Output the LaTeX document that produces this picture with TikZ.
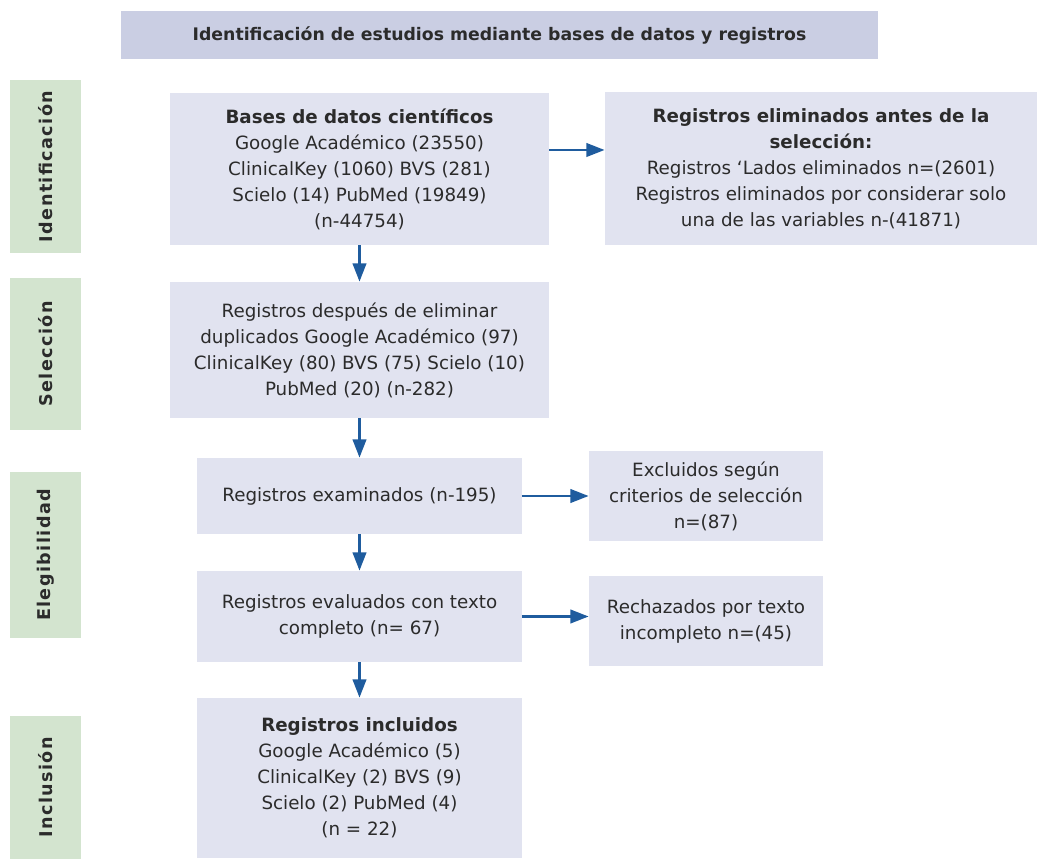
\documentclass[tikz,border=0pt]{standalone}
\usepackage{fontspec}
\setmainfont{DejaVu Sans}
\usetikzlibrary{arrows.meta}
\definecolor{boxfill}{HTML}{E1E3F0}
\definecolor{titlefill}{HTML}{CACEE3}
\definecolor{stagefill}{HTML}{D3E4CF}
\definecolor{arrowblue}{HTML}{1F5C9E}
\definecolor{txtgray}{HTML}{2B2B2B}
\tikzset{
	box/.style={fill=boxfill, text=txtgray, align=center, inner sep=0pt, font=\fontsize{13}{18.5}\selectfont},
	stage/.style={fill=stagefill, text=txtgray, rotate=90, inner sep=0pt, minimum height=1.775cm, font=\bfseries\fontsize{12.5}{15}\selectfont\addfontfeature{LetterSpace=8}},
	flow/.style={draw=arrowblue, line width=2pt, -{Triangle[length=13pt,width=9.5pt]}}
}

\begin{document}
\begin{tikzpicture}[x=0.025cm, y=-0.025cm]
			%%%%% START %%%%%
			\useasboundingbox (0, 0) rectangle (1041, 859);
			
			\node[box, fill=titlefill, minimum width=18.925cm, minimum height=1.2cm, font=\bfseries\fontsize{12.3}{14}\selectfont] (titulo) at (499.5, 35) {Identificación de estudios mediante bases de datos y registros};
			
			% fases
			\node[stage, minimum width=4.325cm] (fase1) at (45.5, 166.5) {Identificación};
			\node[stage, minimum width=3.8cm] (fase2) at (45.5, 354) {Selección};
			\node[stage, minimum width=4.15cm] (fase3) at (45.5, 555) {Elegibilidad};
			\node[stage, minimum width=3.575cm] (fase4) at (45.5, 787.5) {Inclusión};
			
			% columna principal
			\node[box, minimum width=9.475cm, minimum height=3.8cm] (bases) at (359.5, 169) {\textbf{Bases de datos científicos}\\Google Académico (23550)\\ClinicalKey (1060) BVS (281)\\Scielo (14) PubMed (19849)\\(n-44754)};
			\node[box, minimum width=9.475cm, minimum height=3.4cm] (despues) at (359.5, 350) {Registros después de eliminar\\duplicados Google Académico (97)\\ClinicalKey (80) BVS (75) Scielo (10)\\PubMed (20) (n-282)};
			\node[box, minimum width=8.1cm, minimum height=1.9cm] (examinados) at (359.5, 496) {Registros examinados (n-195)};
			\node[box, minimum width=8.1cm, minimum height=2.275cm] (evaluados) at (359.5, 616.5) {Registros evaluados con texto\\completo (n= 67)};
			\node[box, minimum width=8.1cm, minimum height=4cm] (incluidos) at (359.5, 778) {\textbf{Registros incluidos}\\Google Académico (5)\\ClinicalKey (2) BVS (9)\\Scielo (2) PubMed (4)\\(n = 22)};
			
			% columna derecha
			\node[box, minimum width=10.8cm, minimum height=3.825cm] (eliminados) at (821, 168.5) {\textbf{Registros eliminados antes de la}\\\textbf{selección:}\\Registros ‘Lados eliminados n=(2601)\\Registros eliminados por considerar solo\\una de las variables n-(41871)};
			\node[box, minimum width=5.85cm, minimum height=2.25cm] (excluidos) at (706, 496) {Excluidos según\\criterios de selección\\n=(87)};
			\node[box, minimum width=5.85cm, minimum height=2.25cm] (rechazados) at (706, 621) {Rechazados por texto\\incompleto n=(45)};
			
			% flechas
			\draw[flow] (bases) -- (despues);
			\draw[flow] (despues) -- (examinados);
			\draw[flow] (examinados) -- (evaluados);
			\draw[flow] (evaluados) -- (incluidos);
			\draw[flow] ([yshift=0.475cm]bases.east) -- ([yshift=0.475cm]bases.east -| eliminados.west);
			\draw[flow] (examinados) -- (excluidos);
			\draw[flow] (evaluados.east) -- (evaluados.east -| rechazados.west);
			
			%%%%% END %%%%%
		\end{tikzpicture}
\end{document}
